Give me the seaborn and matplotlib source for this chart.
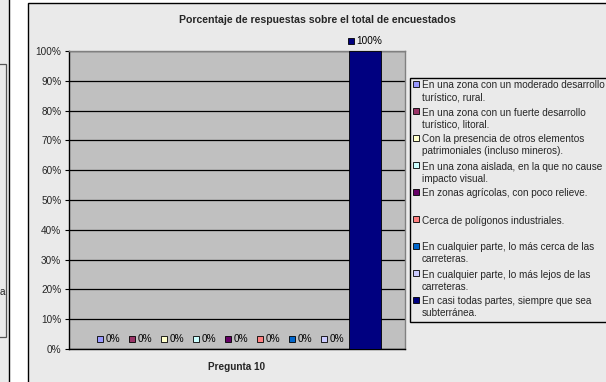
import textwrap
import numpy as np
import pandas as pd
import matplotlib
matplotlib.use("Agg")
import matplotlib.pyplot as plt
import seaborn as sns
from matplotlib.patches import Rectangle, Patch
from matplotlib.ticker import PercentFormatter
from matplotlib.legend_handler import HandlerPatch
from matplotlib.offsetbox import AnnotationBbox, DrawingArea, TextArea, HPacker

# data
titulo = "Porcentaje de respuestas sobre el total de encuestados"
pregunta = "Pregunta 10"
respuestas = [
    "En una zona con un moderado desarrollo turístico, rural.",
    "En una zona con un fuerte desarrollo turístico, litoral.",
    "Con la presencia de otros elementos patrimoniales (incluso mineros).",
    "En una zona aislada, en la que no cause impacto visual.",
    "En zonas agrícolas, con poco relieve.",
    "Cerca de polígonos industriales.",
    "En cualquier parte, lo más cerca de las carreteras.",
    "En cualquier parte, lo más lejos de las carreteras.",
    "En casi todas partes, siempre que sea subterránea.",
]
porcentajes = [0, 0, 0, 0, 0, 0, 0, 0, 1.0]
colores = ["#9999FF", "#993366", "#FFFFCC", "#CCFFFF", "#660066",
           "#FF8080", "#0066CC", "#CCCCFF", "#000080"]

df = pd.DataFrame({
    "pregunta": [pregunta] * len(respuestas),
    "respuesta": respuestas,
    "valor": porcentajes,
})

sns.set_style("white")
plt.rcParams["font.family"] = ["Liberation Sans", "DejaVu Sans"]
FS = 7.2

W, H = 606, 382
fig = plt.figure(figsize=(W / 100, H / 100), dpi=100)
fig.patch.set_facecolor("white")


def fx(px):
    return px / W


def fy(py):
    return 1 - py / H


# chart frame + cropped neighbour on the left
fig.add_artist(Rectangle((fx(27.5), fy(400)), fx(620) - fx(27.5), fy(2.5) - fy(400),
                         transform=fig.transFigure, facecolor="#EAEAEA",
                         edgecolor="black", lw=1, zorder=-2))
fig.add_artist(Rectangle((fx(-10), fy(400)), fx(8.5) - fx(-10), fy(-10) - fy(400),
                         transform=fig.transFigure, facecolor="#EAEAEA",
                         edgecolor="black", lw=1, zorder=-2))
fig.add_artist(Rectangle((fx(-10), fy(337)), fx(6) - fx(-10), fy(64) - fy(337),
                         transform=fig.transFigure, facecolor="none",
                         edgecolor="#555555", lw=0.9, zorder=-1))
fig.text(fx(0), fy(292), "a", fontsize=FS, va="center", ha="left")

ax = fig.add_axes([fx(69), fy(349), fx(405) - fx(69), fy(51) - fy(349)])
ax.set_facecolor("#C0C0C0")

sns.barplot(data=df, x="pregunta", y="valor", hue="respuesta",
            hue_order=respuestas, palette=colores, saturation=1,
            width=288 / 336, gap=0, edgecolor="black", linewidth=0.6,
            legend=False, ax=ax, zorder=3)

ax.set_xlim(-0.5, 0.5)
ax.set_ylim(0, 1)
ax.set_yticks(np.linspace(0, 1, 11))
ax.yaxis.set_major_formatter(PercentFormatter(1.0, decimals=0))
ax.grid(axis="y", color="black", lw=0.9)
ax.set_axisbelow(True)
ax.tick_params(axis="y", direction="out", length=3, width=0.8, color="black",
               labelsize=FS, pad=2.5, left=True)
ax.tick_params(axis="x", length=0, labelbottom=False)
for s in ["left", "bottom"]:
    ax.spines[s].set_color("black")
    ax.spines[s].set_linewidth(1)
for s in ["top", "right"]:
    ax.spines[s].set_color("#808080")
    ax.spines[s].set_linewidth(1)
ax.set_ylabel("")
ax.set_xlabel(pregunta, fontsize=FS, fontweight="bold")
ax.xaxis.set_label_coords(0.5, -18 / 298)
ax.xaxis.label.set_va("center")

# data labels with legend key
for cont, color, v in zip(ax.containers, colores, porcentajes):
    bar = cont.patches[0]
    cx = bar.get_x() + bar.get_width() / 2
    da = DrawingArea(5.0, 4.6, 0, 0)
    da.add_artist(Rectangle((0, 0), 4.4, 4.4, facecolor=color, edgecolor="black", lw=0.6))
    ta = TextArea(f"{v:.0%}", textprops=dict(fontsize=FS, color="black"))
    box = HPacker(children=[da, ta], align="center", pad=0, sep=1.2)
    ab = AnnotationBbox(box, (cx, bar.get_height()), xybox=(0, 7),
                        boxcoords="offset points", frameon=False,
                        box_alignment=(0.5, 0.5), annotation_clip=False)
    ax.add_artist(ab)

fig.text(fx(317), fy(20), titulo, fontsize=7.6, fontweight="bold",
         ha="center", va="center")


def top_square(legend, orig_handle, xdescent, ydescent, width, height, fontsize):
    s = 0.55 * fontsize
    return Rectangle((-xdescent, 0.88 * fontsize), s, s)


etiquetas = []
for r in respuestas:
    t = textwrap.fill(r, 39)
    if "\n" not in t:
        t += "\n "
    etiquetas.append(t)
handles = [Patch(facecolor=c, edgecolor="black", lw=0.6) for c in colores]
leg = ax.legend(handles, etiquetas, loc="upper left",
                bbox_to_anchor=(fx(410), fy(77.5)), bbox_transform=fig.transFigure,
                fontsize=FS, frameon=True, fancybox=False, borderpad=0.3,
                handlelength=0.6, handleheight=2.0, handletextpad=0.25,
                labelspacing=0.5, borderaxespad=0,
                handler_map={Patch: HandlerPatch(patch_func=top_square)})
leg.get_frame().set_facecolor("#EAEAEA")
leg.get_frame().set_edgecolor("black")
leg.get_frame().set_linewidth(1)
leg.get_frame().set_alpha(1)
for t in leg.get_texts():
    t.set_linespacing(1.25)

fig.savefig("out.png", dpi=100)
